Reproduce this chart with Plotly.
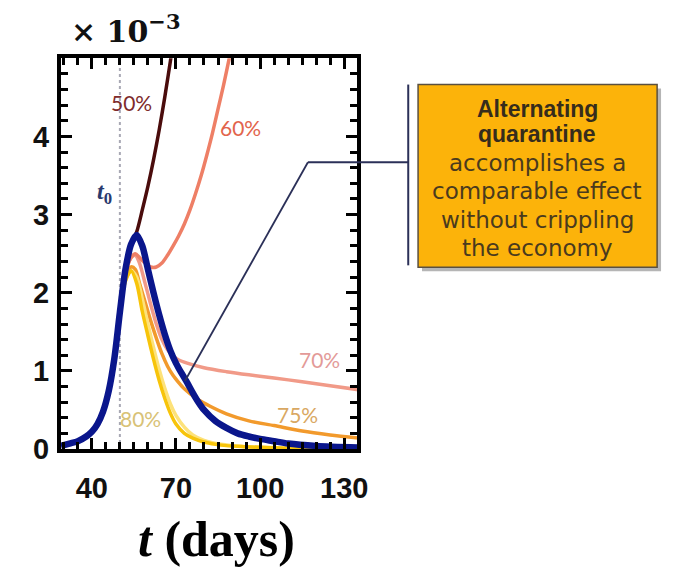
import plotly.graph_objects as go

# ---------------- data (values in units of 1e-3) ----------------
blue_t = [29, 32, 35, 38, 40, 42, 44, 46, 48, 50, 52, 54, 56, 58, 60, 62, 64, 66, 68, 70,
          72, 74, 76, 78, 80, 84, 88, 92, 96, 100, 105, 110, 120, 135]
blue_y = [0.04, 0.07, 0.1, 0.16, 0.22, 0.32, 0.48, 0.74, 1.15, 1.75, 2.3, 2.62, 2.74, 2.6,
          2.3, 2.0, 1.72, 1.47, 1.26, 1.1, 0.97, 0.85, 0.72, 0.6, 0.5, 0.36, 0.27, 0.2,
          0.16, 0.13, 0.1, 0.07, 0.04, 0.02]

q50_t = [50, 52, 54, 56, 58, 60, 62, 64, 66, 68, 70]
q50_y = [1.75, 2.3, 2.62, 2.78, 3.06, 3.36, 3.7, 4.08, 4.5, 4.96, 5.45]

q60_t = [50, 52, 54, 55.5, 57, 59, 61, 63, 65, 67, 69, 71, 73, 75, 77, 79, 81, 83, 85, 87, 89, 91]
q60_y = [1.75, 2.25, 2.45, 2.5, 2.45, 2.38, 2.33, 2.33, 2.38, 2.48, 2.6, 2.73, 2.88, 3.06,
         3.27, 3.5, 3.76, 4.04, 4.35, 4.66, 5.0, 5.35]

q70_t = [50, 52, 54, 55.5, 57, 59, 61, 63, 65, 67, 69, 71, 74, 80, 88, 96, 105, 115, 125, 135]
q70_y = [1.75, 2.25, 2.45, 2.48, 2.38, 2.12, 1.85, 1.6, 1.4, 1.27, 1.19, 1.14, 1.1, 1.04,
         0.99, 0.95, 0.91, 0.86, 0.81, 0.76]

q75_t = [50, 52, 54, 55.5, 57, 59, 61, 63, 65, 67, 69, 71, 73, 75, 78, 82, 88, 96, 105, 115, 125, 135]
q75_y = [1.75, 2.2, 2.33, 2.3, 2.12, 1.88, 1.64, 1.42, 1.22, 1.06, 0.94, 0.85, 0.77, 0.71,
         0.63, 0.55, 0.45, 0.36, 0.3, 0.23, 0.18, 0.14]

q78_t = [50, 52, 54, 56, 58, 60, 62, 64, 66, 68, 70, 73, 76, 80, 86, 95, 110, 135]
q78_y = [1.75, 2.15, 2.28, 2.2, 1.92, 1.6, 1.3, 1.02, 0.78, 0.58, 0.43, 0.28, 0.18, 0.11,
         0.06, 0.03, 0.01, 0.0]

q80_t = [50, 52, 54, 56, 58, 60, 62, 64, 66, 68, 70, 73, 76, 80, 86, 95, 110, 135]
q80_y = [1.75, 2.15, 2.28, 2.12, 1.76, 1.45, 1.15, 0.88, 0.65, 0.46, 0.32, 0.2, 0.14, 0.09,
         0.05, 0.03, 0.01, 0.0]

t0 = 50
x_ticks = [40, 70, 100, 130]
y_ticks = [0, 1, 2, 3, 4]

labels = ["50%", "60%", "70%", "75%", "80%"]
label_t = [54, 93.2, 121.2, 113.5, 57.5]
label_y = [4.44, 4.11, 1.15, 0.44, 0.39]
label_col = ["#7e2b2b", "#e2644c", "#e39a98", "#d9a862", "#d8c276"]

box_lines = ["Alternating", "quarantine", "accomplishes a",
             "comparable effect", "without crippling", "the economy"]
box_bold = [True, True, False, False, False, False]
box_line_y = [112, 138, 168, 197, 226, 255]   # pixel centres of the text lines

W, H = 675, 570
def px(x): return x / W
def py(y): return 1 - y / H

fig = go.Figure()

series = [
    (q70_t, q70_y, "#f19a88", 3.5),
    (q75_t, q75_y, "#f29a2c", 3.5),
    (q78_t, q78_y, "#fde27a", 3.5),
    (q80_t, q80_y, "#f7c40a", 3.5),
    (q60_t, q60_y, "#ee7f66", 3.5),
    (q50_t, q50_y, "#4a0c0c", 3.5),
    (blue_t, blue_y, "#0a168c", 6.5),
]
for tx, ty, c, w in series:
    fig.add_trace(go.Scatter(x=tx, y=ty, mode="lines",
                             line=dict(color=c, width=w, shape="spline", smoothing=0.8),
                             showlegend=False, hoverinfo="skip"))

# t0 dotted line
fig.add_shape(type="line", x0=t0, x1=t0, y0=0, y1=5, xref="x", yref="y",
              line=dict(color="#a8a8b4", width=2, dash="dot"), layer="below")

# labels
for s, tx, ty, c in zip(labels, label_t, label_y, label_col):
    fig.add_annotation(x=tx, y=ty, xref="x", yref="y", text=s, showarrow=False,
                       xanchor="center", yanchor="middle",
                       font=dict(family="Lato", size=21, color=c))
fig.add_annotation(x=44.6, y=3.28, xref="x", yref="y", text="<i>t</i><sub>0</sub>",
                   showarrow=False, xanchor="center", yanchor="middle",
                   font=dict(family="Liberation Serif", size=24, color="#2a3a6e", weight="bold"))

# x10^-3
fig.add_annotation(x=px(128), y=py(30), xref="paper", yref="paper",
                   xanchor="center", yanchor="middle",
                   text="× 10<sup>−3</sup>", showarrow=False,
                   font=dict(family="DejaVu Serif", size=30, color="#111", weight="bold"))
# x axis title
fig.add_annotation(x=px(220), y=py(555), xref="paper", yref="paper",
                   xanchor="center", yanchor="middle",
                   text="<i>t</i> (days)", showarrow=False,
                   font=dict(family="Liberation Serif", size=50, color="#000", weight="bold"))

# callout box shadow + box
fig.add_shape(type="rect", x0=px(429), x1=px(672), y0=py(91), y1=py(279),
              xref="paper", yref="paper", line=dict(width=0), fillcolor="rgba(90,90,90,0.45)")
fig.add_shape(type="rect", x0=px(425), x1=px(668), y0=py(87), y1=py(275),
              xref="paper", yref="paper", line=dict(color="#5a5040", width=1.5),
              fillcolor="#fcb30a")
for s, b, yy in zip(box_lines, box_bold, box_line_y):
    if b:
        f = dict(family="Liberation Sans", size=23, color="#362c1c", weight="bold")
    else:
        f = dict(family="DejaVu Sans", size=23, color="#4a3a1e")
    fig.add_annotation(x=px(546), y=py(yy), xref="paper", yref="paper", text=s,
                       showarrow=False, xanchor="center", yanchor="middle", font=f)

# bracket + pointer
lc = "#2b3058"
fig.add_shape(type="line", x0=px(415), x1=px(415), y0=py(87), y1=py(273),
              xref="paper", yref="paper", line=dict(color=lc, width=2))
fig.add_shape(type="line", x0=px(313), x1=px(415), y0=py(167), y1=py(167),
              xref="paper", yref="paper", line=dict(color=lc, width=2))
fig.add_shape(type="line", x0=px(313), x1=px(188), y0=py(167), y1=py(392),
              xref="paper", yref="paper", line=dict(color=lc, width=1.8))

axis_common = dict(showline=True, linewidth=4, linecolor="#000", mirror="allticks",
                   ticks="inside", ticklen=11, tickwidth=3, tickcolor="#000",
                   showgrid=False, zeroline=False,
                   tickfont=dict(family="Liberation Sans", size=29, color="#111", weight="bold"))

fig.update_layout(
    width=W, height=H, margin=dict(l=0, r=0, t=0, b=0),
    paper_bgcolor="#ffffff", plot_bgcolor="#ffffff",
    xaxis=dict(domain=[px(62), px(363)], range=[29, 134.6], tickmode="array",
               tickvals=x_ticks, ticklabelstandoff=10,
               minor=dict(ticks="inside", dtick=5, tick0=0, ticklen=7, tickwidth=3,
                          tickcolor="#000", showgrid=False),
               **axis_common),
    yaxis=dict(domain=[py(462), py(60)], range=[0, 5], tickmode="array",
               tickvals=y_ticks, ticklabelstandoff=2,
               minor=dict(ticks="inside", dtick=0.2, tick0=0, ticklen=7, tickwidth=3,
                          tickcolor="#000", showgrid=False),
               **axis_common),
)

fig.write_html("out.html")
